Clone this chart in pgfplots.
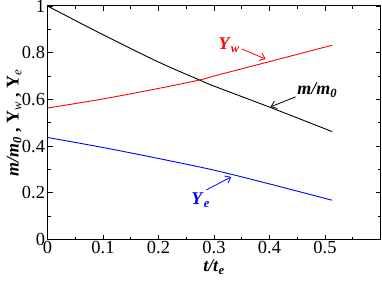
\documentclass[border=0pt]{standalone}
\usepackage{fontspec}
\setmainfont{Liberation Serif}
\usepackage{pgfplots}
\pgfplotsset{compat=1.18}
\usetikzlibrary{arrows.meta}
\newcommand{\bi}[1]{\textbf{\textit{#1}}}
\begin{document}
\begin{tikzpicture}
\begin{axis}[
  name=ax,
  scale only axis, width=333bp, height=233.5bp,
  xmin=0, xmax=0.6, ymin=0, ymax=1,
  xtick={0,0.1,0.2,0.3,0.4,0.5},
  ytick={0,0.2,0.4,0.6,0.8,1},
  minor xtick={0.05,0.15,0.25,0.35,0.45,0.55},
  minor ytick={0.1,0.3,0.5,0.7,0.9},
  tick align=inside, major tick length=5bp, minor tick length=3bp,
  tick style={black, line width=0.7bp},
  axis line style={line width=1bp},
  /pgf/number format/assume math mode=true,
  ticklabel style={font=\fontsize{18.5}{19}\selectfont},
  yticklabel style={xshift=1bp},
  xticklabel style={yshift=2bp},
  xlabel={\bi{t/t}\textsubscript{\bi{e}}},
  ylabel={\bi{m/m}\textsubscript{\bi{0}}\textbf{ , Y}\textsubscript{\textit{w}}\textbf{ , Y}\textsubscript{\textit{e}}},
  every axis x label/.style={at={(axis description cs:0.5,-0.118)}, anchor=center, font=\fontsize{18}{19}\selectfont},
  every axis y label/.style={at={(axis description cs:-0.1,0.5)}, rotate=90, anchor=center, font=\fontsize{18}{19}\selectfont},
]
\addplot[black, line width=0.9bp, smooth] coordinates {
 (0,1) (0.1,0.877) (0.2,0.760) (0.274,0.683) (0.3,0.657) (0.4,0.567) (0.513,0.462)};
\addplot[red, line width=0.9bp, smooth] coordinates {
 (0,0.563) (0.1,0.602) (0.2,0.647) (0.274,0.683) (0.3,0.700) (0.4,0.762) (0.513,0.832)};
\addplot[blue, line width=0.9bp, smooth] coordinates {
 (0,0.437) (0.1,0.394) (0.2,0.347) (0.3,0.297) (0.4,0.238) (0.513,0.168)};
\node[red, anchor=base west, inner sep=0pt, font=\fontsize{18}{19}\selectfont] at (axis cs:0.308,0.812) {\bi{Y}\textsubscript{\bi{w}}};
\draw[red, line width=0.8bp, -{Straight Barb[length=5bp,width=8bp]}] (axis cs:0.35,0.816) -- (axis cs:0.393,0.773);
\node[black, anchor=base west, inner sep=0pt, font=\fontsize{18}{19}\selectfont] at (axis cs:0.450,0.619) {\bi{m/m}\textsubscript{\bi{0}}};
\draw[black, line width=0.8bp, -{Straight Barb[length=5bp,width=8bp]}] (axis cs:0.447,0.611) -- (axis cs:0.402,0.568);
\node[blue, anchor=base west, inner sep=0pt, font=\fontsize{18}{19}\selectfont] at (axis cs:0.259,0.148) {\bi{Y}\textsubscript{\bi{e}}};
\draw[blue, line width=0.8bp, -{Straight Barb[length=5bp,width=8bp]}] (axis cs:0.286,0.212) -- (axis cs:0.331,0.268);
\end{axis}
\pgfresetboundingbox
\path[use as bounding box] ([shift={(-47.5bp,-41.5bp)}]ax.south west) rectangle ([shift={(1.5bp,6bp)}]ax.north east);
\end{tikzpicture}
\end{document}
